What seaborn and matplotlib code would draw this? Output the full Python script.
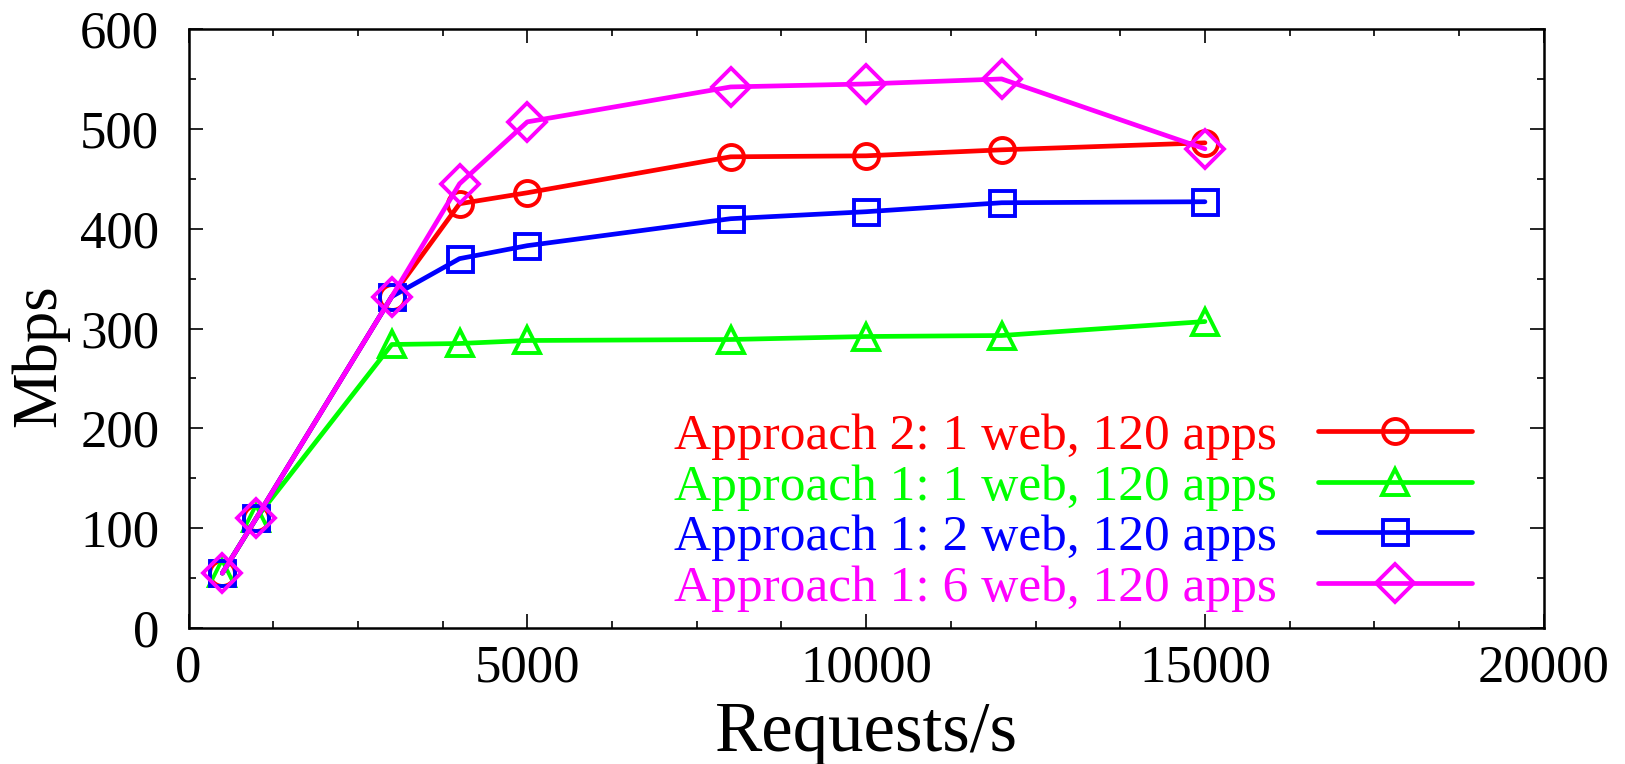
import matplotlib
matplotlib.use("Agg")
import matplotlib.pyplot as plt
from matplotlib.ticker import MultipleLocator, AutoMinorLocator
import pandas as pd
import seaborn as sns

# requests per second on x, throughput in Mbps on y
requests = [500, 1000, 3000, 4000, 5000, 8000, 10000, 12000, 15000]
labels = ["Approach 2: 1 web, 120 apps",
          "Approach 1: 1 web, 120 apps",
          "Approach 1: 2 web, 120 apps",
          "Approach 1: 6 web, 120 apps"]
a2_1web = [55, 110, 332, 425, 436, 472, 473, 479, 486]
a1_1web = [55, 110, 284, 285, 288, 289, 292, 293, 307]
a1_2web = [55, 110, 332, 370, 383, 410, 417, 426, 427]
a1_6web = [55, 110, 332, 445, 507, 542, 545, 550, 480]

series = [a2_1web, a1_1web, a1_2web, a1_6web]
colors = ["#ff0000", "#00ff00", "#0000ff", "#ff00ff"]
markers = ["o", "^", "s", "D"]
msizes = [18, 19, 18, 19]

df = pd.DataFrame({"req": requests * 4,
                   "mbps": sum(series, []),
                   "name": sum([[l] * len(requests) for l in labels], [])})

sns.set_style("ticks")
plt.rcParams["font.family"] = ["Liberation Serif", "DejaVu Serif"]
plt.rcParams["text.color"] = "black"
plt.rcParams["axes.labelcolor"] = "black"
plt.rcParams["xtick.color"] = "black"
plt.rcParams["ytick.color"] = "black"

fig = plt.figure(figsize=(16.25, 7.64), dpi=100)
ax = fig.add_axes([0.116, 0.178, 0.834, 0.784])

for lab, col, mk, ms in zip(labels, colors, markers, msizes):
    d = df[df.name == lab]
    sns.lineplot(data=d, x="req", y="mbps", ax=ax, color=col, marker=mk,
                 markersize=ms, markerfacecolor="none", markeredgecolor=col,
                 markeredgewidth=2.8, linewidth=3.4, label=lab)

ax.set_xlim(0, 20000)
ax.set_ylim(0, 600)
ax.xaxis.set_major_locator(MultipleLocator(5000))
ax.xaxis.set_minor_locator(AutoMinorLocator(4))
ax.yaxis.set_major_locator(MultipleLocator(100))
ax.yaxis.set_minor_locator(AutoMinorLocator(2))
ax.tick_params(which="both", direction="in", top=True, right=True, width=1.2)
ax.tick_params(which="major", length=10, labelsize=38)
ax.tick_params(axis="y", which="major", pad=21)
ax.tick_params(axis="x", which="major", pad=12)
ax.tick_params(which="minor", length=5)
for s in ax.spines.values():
    s.set_linewidth(1.8)
    s.set_color("black")

ax.set_xlabel("Requests/s", fontsize=51, labelpad=6)
ax.set_ylabel("Mbps", fontsize=45)
ax.yaxis.set_label_coords(-0.088, 0.455)

leg = ax.legend(loc="lower right", bbox_to_anchor=(0.968, -0.02), frameon=False,
                markerfirst=False, labelcolor="linecolor", fontsize=37,
                handlelength=3.0, handletextpad=0.8, labelspacing=0.07,
                borderaxespad=0.15)

fig.savefig("out.png", dpi=100)
